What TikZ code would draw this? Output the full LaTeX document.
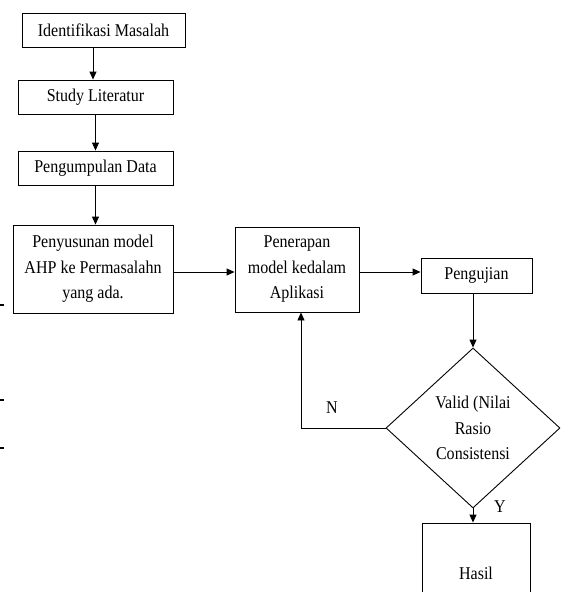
\documentclass[tikz,border=0pt]{standalone}
\usepackage{fontspec}
\setmainfont{Liberation Serif}[FakeStretch=0.89]
\usetikzlibrary{shapes.geometric,arrows.meta}
\begin{document}
\begin{tikzpicture}[x=1pt,y=-1pt,
  txt/.style={font=\fontsize{18}{25.5}\selectfont},
  box/.style={draw, line width=0.9pt, inner sep=0pt, align=center, txt},
  dec/.style={draw, line width=0.9pt, shape=diamond, inner sep=0pt, align=center, txt},
  arr/.style={-{Triangle[length=8pt,width=7pt]}, line width=0.9pt},
  tick/.style={line width=1.3pt}]
\useasboundingbox (0,0) rectangle (565,592);
\clip (0,0) rectangle (565,592);
\node[box, minimum width=163pt, minimum height=34pt] (idm) at (103.5,30) {Identifikasi Masalah};
\node[box, minimum width=155pt, minimum height=34pt] (sl) at (95.5,97) {Study Literatur};
\node[box, minimum width=155pt, minimum height=34pt] (pd) at (95.5,168) {Pengumpulan Data};
\node[box, minimum width=160pt, minimum height=88pt] (pm) at (93,269) {Penyusunan model\\AHP ke Permasalahn\\yang ada.};
\node[box, minimum width=124pt, minimum height=85pt] (pa) at (297,269.5) {Penerapan\\model kedalam\\Aplikasi};
\node[box, minimum width=111pt, minimum height=35pt] (pj) at (476.5,275.5) {Pengujian};
\node[dec, minimum width=174pt, minimum height=160pt] (valid) at (473,428) {Valid (Nilai\\Rasio\\Consistensi};
\node[box, minimum width=108pt, minimum height=100pt] (hasil) at (476,573) {Hasil};
\node[txt] (n) at (332,408) {N};
\node[txt] (y) at (500,507) {Y};
\coordinate (a1) at ([xshift=-10.5pt]idm.south);
\draw[arr] (a1) -- (a1 |- sl.north);
\draw[arr] (sl.south) -- (sl.south |- pd.north);
\draw[arr] (pd.south) -- (pd.south |- pm.north);
\coordinate (a4) at ([yshift=-3pt]pm.east);
\draw[arr] (a4) -- (a4 -| pa.west);
\coordinate (a5) at ([yshift=-2.5pt]pa.east);
\draw[arr] (a5) -- (a5 -| pj.west);
\draw[arr] (pj.south -| valid.north) -- (valid.north);
\draw[arr] (valid.south) -- (valid.south |- hasil.north);
\draw[arr] (valid.west) -| ([xshift=4pt]pa.south);
\draw[tick] (0,305) -- (4,305);
\draw[tick] (0,400) -- (4,400);
\draw[tick] (0,448) -- (4,448);
\end{tikzpicture}
\end{document}
